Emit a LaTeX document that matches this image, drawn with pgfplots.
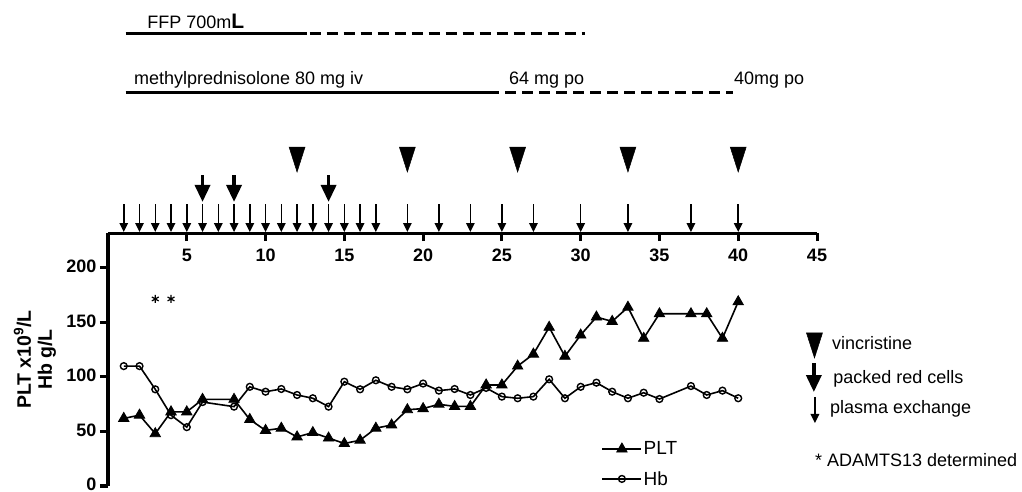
\documentclass[border=0pt]{standalone}
\usepackage{pgfplots}
\pgfplotsset{compat=1.18}
\usepackage{fontspec}
\setmainfont{Liberation Sans}
\usetikzlibrary{arrows.meta}

\pgfdeclareplotmark{vtri}{%
  \pgfpathmoveto{\pgfpoint{-8bp}{0bp}}%
  \pgfpathlineto{\pgfpoint{8bp}{0bp}}%
  \pgfpathlineto{\pgfpoint{0bp}{-25bp}}%
  \pgfpathclose
  \pgfusepathqfillstroke}

\newcommand{\txt}{\fontsize{18bp}{21bp}\selectfont}

\begin{document}
\begin{tikzpicture}
\path[use as bounding box] (0,0) rectangle (1022bp,492bp);
\begin{axis}[
  at={(108bp,6bp)}, anchor=south west,
  scale only axis, width=709bp, height=252.88bp,
  xmin=0, xmax=45, ymin=0, ymax=232,
  clip=false,
  axis x line=bottom, axis y line=left,
  axis x line shift=-252.88bp,
  axis line style={-, line width=3bp, black},
  xtick={5,10,...,45}, ytick={0,50,...,200},
  tick align=outside,
  major tick length=8bp,
  tick style={line width=3bp, black},
  /pgf/number format/assume math mode=true,
  tick label style={font=\bfseries\fontsize{18bp}{18bp}\selectfont},
  xticklabel style={yshift=-4bp},
  yticklabel style={yshift=1.5bp},
  ylabel={PLT x10$^{\mathbf{9}}$/L\\Hb g/L},
  ylabel style={font=\bfseries\fontsize{19.5bp}{21bp}\selectfont, align=center,
    at={(axis description cs:-0.103,0.5)}, anchor=center},
  legend style={draw=none, fill=none, inner sep=0pt, outer sep=0pt,
    at={(axis cs:31.33,42)}, anchor=north west,
    font=\fontsize{19bp}{19bp}\selectfont, row sep=12bp,
    nodes={inner sep=1.5bp}},
  legend cell align=left,
  legend image code/.code={\draw[mark repeat=2,mark phase=2,#1] plot coordinates {(0bp,0bp) (19.5bp,0bp) (39bp,0bp)};},
]
% PLT
\addplot[black, line width=1.6bp, mark=triangle*, mark size=6bp, mark options={solid, line width=0.8bp, fill=black}]
 coordinates {(1,62) (2,65) (3,48) (4,68) (5,68) (6,79.5) (8,79.5) (9,61) (10,51) (11,53) (12,45) (13,49) (14,44) (15,39) (16,42) (17,53) (18,56) (19,70) (20,71) (21,75) (22,73) (23,73) (24,92.7) (25,92.7) (26,110) (27,121) (28,145.6) (29,119) (30,138.5) (31,155) (32,151) (33,164) (34,135.5) (35,158) (37,158) (38,158) (39,135.5) (40,169)};
\addlegendentry{PLT}
% Hb
\addplot[black, line width=1.6bp, mark=o, mark size=3.4bp, mark options={solid, line width=1.4bp}]
 coordinates {(1,110) (2,110) (3,88.7) (4,65) (5,54) (6,77) (8,72.8) (9,91) (10,86.5) (11,89) (12,83.5) (13,80.5) (14,72.8) (15,95.7) (16,88.7) (17,97) (18,91) (19,88.7) (20,94) (21,87.5) (22,89) (23,83.5) (24,90) (25,82) (26,80.5) (27,82) (28,97.9) (29,80.5) (30,91) (31,94.8) (32,86.5) (33,80.5) (34,85.6) (35,79.8) (37,91.7) (38,83.5) (39,87.5) (40,80.5)};
\addlegendentry{Hb}
% ADAMTS13 stars
\addplot[forget plot, only marks, black, mark=asterisk, mark size=4bp, mark options={line width=1.2bp}]
 coordinates {(3,171.6) (4,171.6)};
% plasma exchange arrows
\addplot[forget plot, black, line width=1.5bp, -{Triangle[length=9bp,width=8.5bp]}, quiver={u=0,v=-25.7}]
 coordinates {(1,258.7) (2,258.7) (3,258.7) (4,258.7) (5,258.7) (6,258.7) (7,258.7) (8,258.7) (9,258.7) (10,258.7) (11,258.7) (12,258.7) (13,258.7) (14,258.7) (15,258.7) (16,258.7) (17,258.7) (19,258.7) (21,258.7) (23,258.7) (25,258.7) (27,258.7) (30,258.7) (33,258.7) (37,258.7) (40,258.7)};
% packed red cells arrows
\addplot[forget plot, black, line width=3.5bp, -{Triangle[length=17bp,width=15bp]}, quiver={u=0,v=-24.7}]
 coordinates {(6,285.3) (8,285.3) (14,285.3)};
% vincristine
\addplot[forget plot, only marks, mark=vtri, black, fill=black, line width=0.5bp]
 coordinates {(12,311) (19,311) (26,311) (33,311) (40,311)};
% right legend symbols
\addplot[forget plot, only marks, mark=vtri, black, fill=black, line width=0.5bp]
 coordinates {(44.84,140.4)};
\addplot[forget plot, black, line width=3.5bp, -{Triangle[length=17bp,width=15bp]}, quiver={u=0,v=-26.6}]
 coordinates {(44.8,112.8)};
\addplot[forget plot, black, line width=1.5bp, -{Triangle[length=9bp,width=8.5bp]}, quiver={u=0,v=-23.9}]
 coordinates {(44.87,81.7)};
% FFP and steroid lines
\addplot[forget plot, black, line width=3.3bp] coordinates {(1.12,415.3) (12.6,415.3)};
\addplot[forget plot, black, line width=3.3bp, dash pattern=on 11bp off 6bp] coordinates {(12.8,415.3) (30.3,415.3)};
\addplot[forget plot, black, line width=3.3bp] coordinates {(1.12,360.8) (24.83,360.8)};
\addplot[forget plot, black, line width=3.3bp, dash pattern=on 11bp off 6bp] coordinates {(25.2,360.8) (39.67,360.8)};
% texts
\node[anchor=base west, font=\txt, inner sep=0pt] at (axis cs:2.48,419.3) {FFP 700m{\bfseries\fontsize{21bp}{21bp}\selectfont L}};
\node[anchor=base west, font=\txt, inner sep=0pt] at (axis cs:1.64,368.8) {methylprednisolone 80 mg iv};
\node[anchor=base west, font=\txt, inner sep=0pt] at (axis cs:25.45,368.8) {64 mg po};
\node[anchor=base west, font=\txt, inner sep=0pt] at (axis cs:39.73,368.8) {40mg po};
\node[anchor=base west, font=\txt, inner sep=0pt] at (axis cs:45.95,124.8) {vincristine};
\node[anchor=base west, font=\txt, inner sep=0pt] at (axis cs:46.03,94.2) {packed red cells};
\node[anchor=base west, font=\txt, inner sep=0pt] at (axis cs:45.82,66.7) {plasma exchange};
\node[anchor=base west, font=\txt, inner sep=0pt] at (axis cs:44.87,17.7) {* ADAMTS13 determined};
\end{axis}
\end{tikzpicture}
\end{document}
